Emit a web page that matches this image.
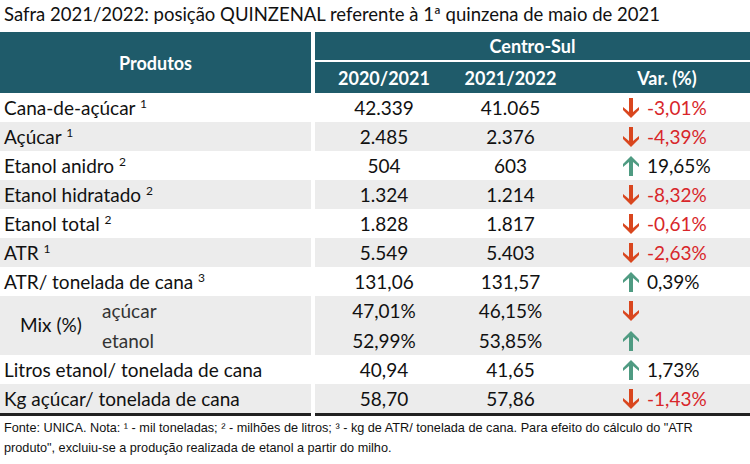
<!DOCTYPE html>
<html lang="pt">
<head>
<meta charset="UTF-8">
<script src="https://cdn.jsdelivr.net/npm/chart.js"></script>
<style>
  body { margin:0; width:750px; height:464px; background:#fff; font-family:Lato, "Open Sans", sans-serif; color:#111; overflow:hidden; }
  .titulo { position:absolute; left:4px; top:3px; font-size:18.5px; }
  table { position:absolute; left:0; top:32px; width:750px; border-collapse:collapse; table-layout:fixed; }
  td, th { padding:0; height:29px; font-size:19px; font-weight:normal; }
  th { background:#1f5b6a; color:#fff; font-weight:bold; font-size:18px; }
  .cab1 th { height:28px; }
  .cab2 th { height:31px; border-top:2px solid #fff; }
  .sep { border-left:4px solid #fff; }
  .cinza td { background:#ececec; }
  .num { text-align:center; }
  .var { padding-left:55px; white-space:nowrap; }
  .var svg { vertical-align:-3px; margin-right:8px; }
  .neg { color:#d8262a; }
  .mix td { height:29.5px; }
  tr:last-child td { border-bottom:3px solid #222; }
  .rodape { position:absolute; left:4px; top:418px; font-family:"Liberation Sans", Arial, sans-serif; font-size:12.7px; line-height:20px; color:#111; }
  sup { font-size:12px; }
</style>
</head>
<body>
<div class="titulo">Safra 2021/2022: posição QUINZENAL referente à 1ª quinzena de maio de 2021</div>
<table id="tab">
  <colgroup><col style="width:313px"><col style="width:140px"><col style="width:115px"><col></colgroup>
  <tr class="cab1"><th rowspan="2" style="font-size:18px">Produtos</th><th colspan="3" class="sep">Centro-Sul</th></tr>
  <tr class="cab2"><th class="sep">2020/2021</th><th>2021/2022</th><th style="padding-left:16px">Var. (%)</th></tr>
</table>
<div class="rodape">Fonte: UNICA. Nota: ¹ - mil toneladas; ² - milhões de litros; ³ - kg de ATR/ tonelada de cana. Para efeito do cálculo do "ATR<br>produto", excluiu-se a produção realizada de etanol a partir do milho.</div>
<script>
const produtos = ['Cana-de-açúcar', 'Açúcar', 'Etanol anidro', 'Etanol hidratado', 'Etanol total', 'ATR', 'ATR/ tonelada de cana', 'açúcar', 'etanol', 'Litros etanol/ tonelada de cana', 'Kg açúcar/ tonelada de cana'];
const notas = ['1', '1', '2', '2', '2', '1', '3', '', '', '', ''];
const safra2021 = ['42.339', '2.485', '504', '1.324', '1.828', '5.549', '131,06', '47,01%', '52,99%', '40,94', '58,70'];
const safra2022 = ['41.065', '2.376', '603', '1.214', '1.817', '5.403', '131,57', '46,15%', '53,85%', '41,65', '57,86'];
const variacao = ['-3,01%', '-4,39%', '19,65%', '-8,32%', '-0,61%', '-2,63%', '0,39%', '-', '+', '1,73%', '-1,43%'];
const cinza = [false, true, false, true, false, true, false, true, true, false, true];

function seta(sobe) {
  const cor = sobe ? '#4f9b82' : '#d9461e';
  // seta com ponta em "v" como no original
  const pts = sobe ? '8,0 16,8 16,11 10,6 10,20 6,20 6,6 0,11 0,8'
                   : '6,0 10,0 10,14 16,9 16,12 8,20 0,12 0,9 6,14';
  return `<svg width="16" height="20"><polygon points="${pts}" fill="${cor}"/></svg>`;
}

const tab = document.getElementById('tab');
for (let i = 0; i < produtos.length; i++) {
  const tr = document.createElement('tr');
  if (cinza[i]) tr.className = 'cinza';
  if (i == 7 || i == 8) tr.classList.add('mix');
  let nome;
  if (i == 7) nome = `<td style="position:relative"><span style="position:absolute;left:20px;top:17px">Mix (%)</span><span style="margin-left:102px;color:#333">${produtos[i]}</span></td>`;
  else if (i == 8) nome = `<td><span style="margin-left:102px;color:#333">${produtos[i]}</span></td>`;
  else nome = `<td style="padding-left:4px">${produtos[i]}${notas[i] ? ' <sup>' + notas[i] + '</sup>' : ''}</td>`;
  const v = variacao[i];
  const sobe = v[0] != '-';
  const txt = (v == '-' || v == '+') ? '' : v;
  tr.innerHTML = nome +
    `<td class="num sep">${safra2021[i]}</td><td class="num">${safra2022[i]}</td>` +
    `<td class="var${sobe ? '' : ' neg'}">${seta(sobe)}${txt}</td>`;
  tab.appendChild(tr);
}
</script>
</body>
</html>
